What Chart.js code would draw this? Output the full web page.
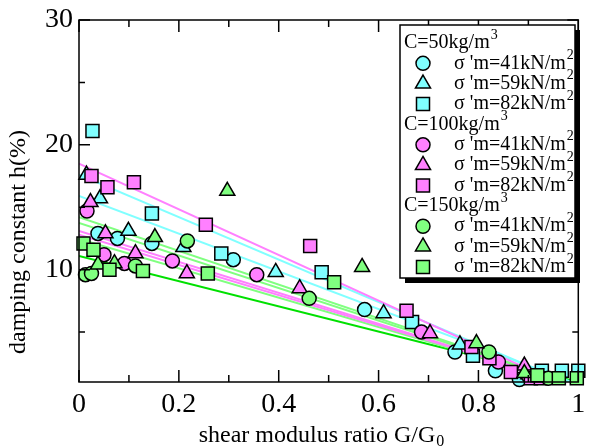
<!DOCTYPE html>
<html>
<head>
<meta charset="utf-8">
<script src="https://cdn.jsdelivr.net/npm/chart.js@4.4.1/dist/chart.umd.min.js"></script>
<style>
  html, body { margin: 0; padding: 0; background: #fff; }
</style>
</head>
<body>
<canvas id="chart" width="589" height="448"></canvas>
<script>
// G/G0 (x) and damping h% (y), one pair of arrays per density / confining pressure
var g50_41 = [0.038, 0.077, 0.146, 0.309, 0.572, 0.753, 0.834, 0.882];
var h50_41 = [12.9, 12.5, 12.1, 10.8, 6.8, 3.4, 1.9, 1.2];
var g50_59 = [0.015, 0.042, 0.099, 0.209, 0.394, 0.61, 0.763, 0.9];
var h50_59 = [17.6, 15.7, 13.1, 11.8, 9.8, 6.5, 4.0, 1.6];
var g50_82 = [0.027, 0.146, 0.285, 0.486, 0.667, 0.789, 0.927, 0.967, 1.0];
var h50_82 = [21.1, 14.5, 11.3, 9.8, 5.8, 3.1, 1.9, 1.9, 1.9];

var g100_41 = [0.016, 0.05, 0.091, 0.187, 0.356, 0.686, 0.84, 0.9];
var h100_41 = [14.7, 11.2, 10.5, 10.7, 9.6, 5.0, 2.6, 1.5];
var g100_59 = [0.023, 0.053, 0.113, 0.216, 0.442, 0.703, 0.892];
var h100_59 = [15.4, 12.9, 11.3, 9.7, 8.5, 4.9, 2.3];
var g100_82 = [0.025, 0.057, 0.11, 0.254, 0.463, 0.656, 0.786, 0.822, 0.865, 0.905, 0.925];
var h100_82 = [17.5, 16.6, 17.0, 13.6, 11.9, 6.7, 3.8, 2.9, 1.8, 1.3, 1.3];

var g150_41 = [0.013, 0.025, 0.113, 0.217, 0.461, 0.821, 0.94];
var h150_41 = [9.6, 9.7, 10.3, 12.3, 7.7, 3.4, 1.3];
var g150_59 = [0.038, 0.071, 0.152, 0.297, 0.567, 0.796, 0.892];
var h150_59 = [10.4, 10.5, 12.6, 16.3, 10.2, 4.1, 1.7];
var g150_82 = [0.009, 0.029, 0.061, 0.128, 0.258, 0.511, 0.918, 0.961, 0.997];
var h150_82 = [12.1, 11.6, 10.0, 9.9, 9.7, 9.0, 1.55, 1.3, 1.3];

// fitted lines, h at G/G0 = 0 and at G/G0 = 1
var fitX = [0, 1];
var fitStart = [18.5, 17.6, 15.9, 14.2, 13.75, 13.1, 12.8, 12.45, 11.1];
var fitEnd = [0.2, 0.6, 0.8, 0.7, 0.7, 0.7, 0.7, 0.7, 1.0];
var fitColors = ['#ff80ff', '#80ffff', '#80ffff', '#80ff80', '#80ff80', '#ff80ff', '#ff80ff', '#80ff80', '#00e000'];

var densities = ['C=50kg/m', 'C=100kg/m', 'C=150kg/m'];
var pressures = ["σ 'm=41kN/m", "σ 'm=59kN/m", "σ 'm=82kN/m"];
var fills = ['#80ffff', '#ff80ff', '#80ff80'];
var shapes = ['circle', 'triangle', 'rect'];
var radii = { circle: 7, triangle: 8.7, rect: 9.2 };

var xMajor = [0, 0.2, 0.4, 0.6, 0.8, 1];
var xMinor = [0.1, 0.3, 0.5, 0.7, 0.9];
var yMajor = [10, 20, 30];
var yMinor = [5, 15, 25];

var serif = "'Liberation Serif', 'Times New Roman', serif";

function pts(xs, ys) {
  return xs.map(function (x, i) { return { x: x, y: ys[i] }; });
}

var seriesX = [[g50_41, g50_59, g50_82], [g100_41, g100_59, g100_82], [g150_41, g150_59, g150_82]];
var seriesY = [[h50_41, h50_59, h50_82], [h100_41, h100_59, h100_82], [h150_41, h150_59, h150_82]];

var datasets = [];
fitStart.forEach(function (h0, i) {
  datasets.push({
    label: 'fit' + i,
    data: pts(fitX, [h0, fitEnd[i]]),
    showLine: true,
    borderColor: fitColors[i],
    borderWidth: 2,
    pointRadius: 0,
    clip: 0,
    order: 100
  });
});
var k = 0;
densities.forEach(function (d, di) {
  pressures.forEach(function (p, pi) {
    datasets.push({
      label: d + ' ' + p,
      data: pts(seriesX[di][pi], seriesY[di][pi]),
      pointStyle: shapes[pi],
      pointRadius: radii[shapes[pi]],
      pointBackgroundColor: fills[di],
      pointBorderColor: '#000',
      pointBorderWidth: 1.5,
      showLine: false,
      clip: false,
      order: 50 - k
    });
    k++;
  });
});

function textSup(ctx, str, sup, x, y, size, supSize, dy) {
  ctx.font = size + 'px ' + serif;
  ctx.fillText(str, x, y);
  var w = ctx.measureText(str).width;
  ctx.font = supSize + 'px ' + serif;
  ctx.fillText(sup, x + w + 1, y + dy);
  return w;
}

var framePlugin = {
  id: 'frame',
  afterDatasetsDraw: function (chart) {
    var ctx = chart.ctx, a = chart.chartArea;
    var xs = chart.scales.x, ys = chart.scales.y;
    ctx.save();
    ctx.strokeStyle = '#000';
    ctx.lineWidth = 1.5;
    ctx.strokeRect(a.left, a.top, a.right - a.left, a.bottom - a.top);
    ctx.beginPath();
    function xt(v, len) {
      var px = xs.getPixelForValue(v);
      ctx.moveTo(px, a.bottom); ctx.lineTo(px, a.bottom - len);
      ctx.moveTo(px, a.top); ctx.lineTo(px, a.top + len);
    }
    function yt(v, len) {
      var py = ys.getPixelForValue(v);
      ctx.moveTo(a.left, py); ctx.lineTo(a.left + len, py);
      ctx.moveTo(a.right, py); ctx.lineTo(a.right - len, py);
    }
    xMajor.forEach(function (v) { xt(v, 12); });
    xMinor.forEach(function (v) { xt(v, 7); });
    yMajor.forEach(function (v) { yt(v, 11); });
    yMinor.forEach(function (v) { yt(v, 6); });
    ctx.stroke();
    ctx.restore();
  },
  afterDraw: function (chart) {
    var ctx = chart.ctx;
    ctx.save();
    ctx.fillStyle = '#000';
    ctx.textBaseline = 'alphabetic';

    // axis titles
    ctx.font = '24px ' + serif;
    var xt = 'shear modulus ratio G/G';
    var w = ctx.measureText(xt).width;
    var x0 = 322 - (w + 10) / 2;
    textSup(ctx, xt, '0', x0, 442, 24, 16, 4);

    ctx.save();
    ctx.translate(25, 242);
    ctx.rotate(-Math.PI / 2);
    ctx.textAlign = 'center';
    ctx.font = '24px ' + serif;
    ctx.fillText('damping constant h(%)', 0, 0);
    ctx.restore();

    // legend box with shadow
    var L = 400, T = 25, W = 175, H = 253;
    ctx.fillStyle = '#000';
    ctx.fillRect(L + 5, T + 5, W, H);
    ctx.fillStyle = '#fff';
    ctx.fillRect(L, T, W, H);
    ctx.strokeStyle = '#000';
    ctx.lineWidth = 1.5;
    ctx.strokeRect(L, T, W, H);

    var row = 0, step = 20.36, top = 43;
    densities.forEach(function (d, di) {
      var y = top + step * row++;
      ctx.fillStyle = '#000';
      ctx.textBaseline = 'middle';
      textSup(ctx, d, '3', 404, y, 20, 14, -8);
      pressures.forEach(function (p, pi) {
        var yy = top + step * row++;
        ctx.fillStyle = fills[di];
        ctx.strokeStyle = '#000';
        ctx.lineWidth = 1.5;
        Chart.helpers.drawPoint(ctx, { pointStyle: shapes[pi], radius: radii[shapes[pi]], borderWidth: 1.5, rotation: 0 }, 423, yy);
        ctx.fillStyle = '#000';
        ctx.textBaseline = 'middle';
        textSup(ctx, p, '2', 454, yy, 20, 14, -8);
      });
    });
    ctx.restore();
  }
};

new Chart(document.getElementById('chart'), {
  type: 'scatter',
  data: { datasets: datasets },
  options: {
    responsive: false,
    animation: false,
    layout: { padding: { top: 20, right: 4.5, bottom: 0, left: 0 } },
    plugins: { legend: { display: false }, tooltip: { enabled: false } },
    scales: {
      x: {
        type: 'linear',
        min: 0,
        max: 1,
        afterBuildTicks: function (s) { s.ticks = xMajor.map(function (v) { return { value: v }; }); },
        afterFit: function (s) { s.height = 66; s.paddingLeft = 0; s.paddingRight = 0; },
        ticks: {
          font: { family: serif, size: 28 },
          color: '#000',
          padding: 6,
          maxRotation: 0,
          autoSkip: false,
          callback: function (v) { return String(v); }
        },
        grid: { display: false, drawTicks: false },
        border: { display: false }
      },
      y: {
        type: 'linear',
        min: 1,
        max: 30,
        afterBuildTicks: function (s) { s.ticks = yMajor.map(function (v) { return { value: v }; }); },
        afterFit: function (s) { s.width = 79; s.paddingTop = 0; s.paddingBottom = 0; },
        ticks: {
          font: { family: serif, size: 28 },
          color: '#000',
          padding: 6,
          callback: function (v) { return String(v); }
        },
        grid: { display: false, drawTicks: false },
        border: { display: false }
      }
    }
  },
  plugins: [framePlugin]
});
</script>
</body>
</html>
